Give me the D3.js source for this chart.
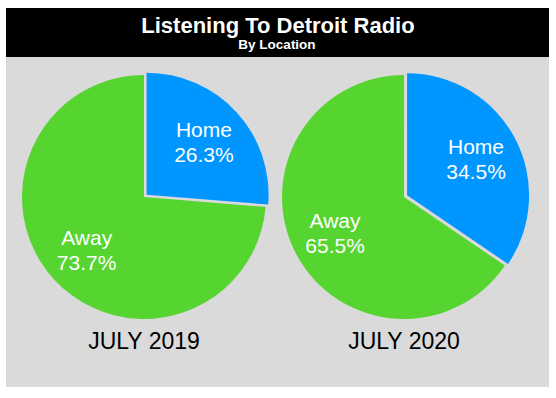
<!DOCTYPE html>
<html>
<head>
<meta charset="utf-8">
<script src="https://cdn.jsdelivr.net/npm/d3@7"></script>
<style>
  body { margin: 0; background: #fff; }
  svg { display: block; font-family: "Liberation Sans", Arial, Helvetica, sans-serif; }
</style>
</head>
<body>
<svg id="chart" width="556" height="398"></svg>
<script>
// data
var periods = ["JULY 2019", "JULY 2020"];
var categories = ["Home", "Away"];
var homeShare = [26.3, 34.5];
var awayShare = [73.7, 65.5];

var colors = { "Home": "#0096ff", "Away": "#56d430" };

var svg = d3.select("#chart");

// background panel + header
svg.append("rect").attr("x", 6).attr("y", 57).attr("width", 543).attr("height", 330).attr("fill", "#dadada");
svg.append("rect").attr("x", 6).attr("y", 8).attr("width", 543).attr("height", 49).attr("fill", "#000");

svg.append("text")
    .attr("x", 278).attr("y", 32.5)
    .attr("text-anchor", "middle")
    .attr("fill", "#fff")
    .attr("font-weight", "bold")
    .attr("font-size", 22)
    .text("Listening To Detroit Radio");

svg.append("text")
    .attr("x", 277).attr("y", 48.5)
    .attr("text-anchor", "middle")
    .attr("fill", "#fff")
    .attr("font-weight", "bold")
    .attr("font-size", 13.5)
    .text("By Location");

var x = d3.scalePoint().domain(periods).range([144, 404]);
var cy = 197;
var radius = 122;
var explode = 3.5;

var pie = d3.pie().sort(null).value(function (d) { return d.value; });
var arc = d3.arc().innerRadius(0).outerRadius(radius);
var labelArc = d3.arc().innerRadius(78).outerRadius(78);

periods.forEach(function (period, i) {
    var rows = categories.map(function (c) {
        return { name: c, value: c === "Home" ? homeShare[i] : awayShare[i] };
    });

    var g = svg.append("g").attr("transform", "translate(" + x(period) + "," + cy + ")");

    var slices = g.selectAll("g.slice")
        .data(pie(rows))
        .enter()
        .append("g")
        .attr("class", "slice")
        .attr("transform", function (d) {
            if (d.data.name !== "Home") return null;
            var a = (d.startAngle + d.endAngle) / 2;
            return "translate(" + (Math.sin(a) * explode) + "," + (-Math.cos(a) * explode) + ")";
        });

    slices.append("path")
        .attr("d", arc)
        .attr("fill", function (d) { return colors[d.data.name]; });

    var labels = slices.append("text")
        .attr("transform", function (d) {
            var p = labelArc.centroid(d);
            return "translate(" + p[0] + "," + p[1] + ")";
        })
        .attr("text-anchor", "middle")
        .attr("fill", "#fff")
        .attr("font-size", 21);

    labels.append("tspan").attr("x", 0).attr("y", -5).text(function (d) { return d.data.name; });
    labels.append("tspan").attr("x", 0).attr("y", 20).text(function (d) { return d.data.value.toFixed(1) + "%"; });

    svg.append("text")
        .attr("x", x(period)).attr("y", 348.5)
        .attr("text-anchor", "middle")
        .attr("fill", "#000")
        .attr("font-size", 23)
        .text(period);
});
</script>
</body>
</html>
